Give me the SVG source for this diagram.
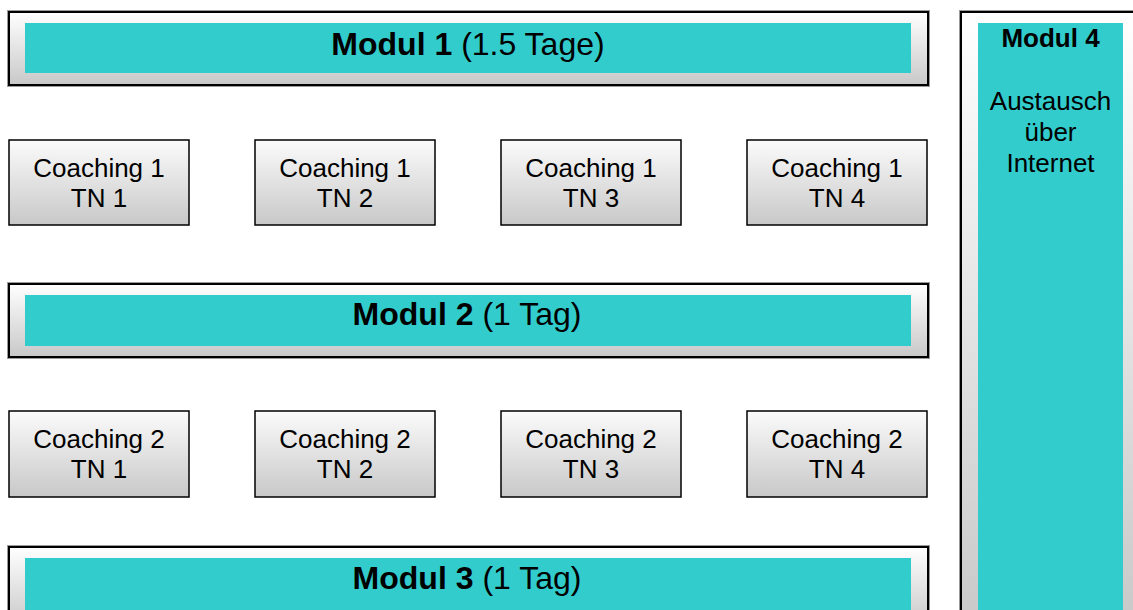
<svg xmlns="http://www.w3.org/2000/svg" width="1133" height="610" viewBox="0 0 1133 610">
  <defs>
    <linearGradient id="gModul" x1="0" y1="0" x2="0" y2="1">
      <stop offset="0" stop-color="#ffffff"/>
      <stop offset="1" stop-color="#c8c8c8"/>
    </linearGradient>
    <linearGradient id="gCoach" x1="0" y1="0" x2="0" y2="1">
      <stop offset="0" stop-color="#fbfbfb"/>
      <stop offset="1" stop-color="#c8c8c8"/>
    </linearGradient>
  </defs>
  <style>
    .outer { fill: url(#gModul); stroke: #000; stroke-width: 2; }
    .halo { fill: none; stroke: #9a9a9a; stroke-width: 4; }
    .coach { fill: url(#gCoach); stroke: #000; stroke-width: 1.5; }
    .teal { fill: #33cccc; }
    text { font-family: "Liberation Sans", Arial, sans-serif; fill: #000; text-anchor: middle; }
    .mt { font-size: 32px; }
    .ct { font-size: 26px; }
    .m4 { font-size: 26px; }
    .b { font-weight: bold; }
  </style>

  <g id="modul1">
    <rect class="halo" x="9" y="12" width="919" height="73"/>
    <rect class="outer" x="9" y="12" width="919" height="73"/>
    <rect class="teal" x="25" y="23" width="886" height="50"/>
    <text class="mt" x="468" y="55"><tspan class="b">Modul 1</tspan> (1.5 Tage)</text>
  </g>

  <g id="modul2">
    <rect class="halo" x="9" y="284" width="919" height="73"/>
    <rect class="outer" x="9" y="284" width="919" height="73"/>
    <rect class="teal" x="25" y="295" width="886" height="51"/>
    <text class="mt" x="467" y="325"><tspan class="b">Modul 2</tspan> (1 Tag)</text>
  </g>

  <g id="modul3">
    <rect class="halo" x="9" y="547" width="919" height="80"/>
    <rect class="outer" x="9" y="547" width="919" height="80"/>
    <rect class="teal" x="25" y="558" width="886" height="60"/>
    <text class="mt" x="467" y="589"><tspan class="b">Modul 3</tspan> (1 Tag)</text>
  </g>

  <g id="modul4">
    <rect class="halo" x="961" y="12" width="180" height="620"/>
    <rect class="outer" x="961" y="12" width="180" height="620"/>
    <rect class="teal" x="978" y="23" width="145" height="600"/>
    <text class="m4 b" x="1050.5" y="47">Modul 4</text>
    <text class="m4" x="1050.5" y="109.5">Austausch</text>
    <text class="m4" x="1050.5" y="140.5">über</text>
    <text class="m4" x="1050.5" y="171.5">Internet</text>
  </g>

  <g id="c1tn1">
    <rect class="coach" x="9" y="140" width="180" height="85"/>
    <text class="ct" x="99" y="177">Coaching 1</text>
    <text class="ct" x="99" y="207">TN 1</text>
  </g>
  <g id="c1tn2">
    <rect class="coach" x="255" y="140" width="180" height="85"/>
    <text class="ct" x="345" y="177">Coaching 1</text>
    <text class="ct" x="345" y="207">TN 2</text>
  </g>
  <g id="c1tn3">
    <rect class="coach" x="501" y="140" width="180" height="85"/>
    <text class="ct" x="591" y="177">Coaching 1</text>
    <text class="ct" x="591" y="207">TN 3</text>
  </g>
  <g id="c1tn4">
    <rect class="coach" x="747" y="140" width="180" height="85"/>
    <text class="ct" x="837" y="177">Coaching 1</text>
    <text class="ct" x="837" y="207">TN 4</text>
  </g>

  <g id="c2tn1">
    <rect class="coach" x="9" y="411" width="180" height="86"/>
    <text class="ct" x="99" y="448">Coaching 2</text>
    <text class="ct" x="99" y="478">TN 1</text>
  </g>
  <g id="c2tn2">
    <rect class="coach" x="255" y="411" width="180" height="86"/>
    <text class="ct" x="345" y="448">Coaching 2</text>
    <text class="ct" x="345" y="478">TN 2</text>
  </g>
  <g id="c2tn3">
    <rect class="coach" x="501" y="411" width="180" height="86"/>
    <text class="ct" x="591" y="448">Coaching 2</text>
    <text class="ct" x="591" y="478">TN 3</text>
  </g>
  <g id="c2tn4">
    <rect class="coach" x="747" y="411" width="180" height="86"/>
    <text class="ct" x="837" y="448">Coaching 2</text>
    <text class="ct" x="837" y="478">TN 4</text>
  </g>

  <g id="connectors"/>
</svg>
